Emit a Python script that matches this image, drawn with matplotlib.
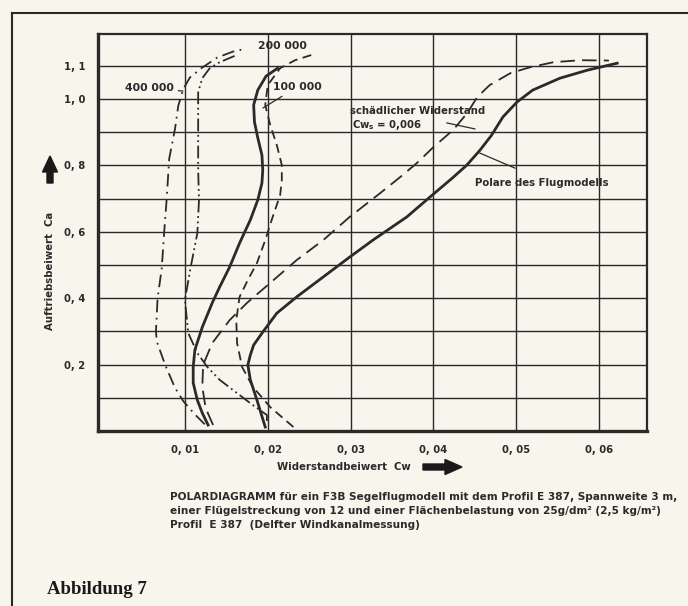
import matplotlib
matplotlib.use('Agg')
import matplotlib.pyplot as plt
from matplotlib.patches import FancyArrow
from matplotlib.lines import Line2D

plt.rcParams['font.family'] = ['DejaVu Sans']
plt.rcParams['mathtext.default'] = 'regular'

# --- Profilpolaren E 387 (Delft) ---
# Re 400 000, strichpunktiert
cw_400 = [0.0124, 0.0112, 0.0098, 0.0088, 0.0076, 0.0066, 0.0065, 0.0067, 0.0072, 0.0075,
          0.0078, 0.0081, 0.0088, 0.0092, 0.0098, 0.0106, 0.0121, 0.0139, 0.0158, 0.0174]
ca_400 = [0.02, 0.05, 0.09, 0.13, 0.20, 0.27, 0.30, 0.40, 0.49, 0.60,
          0.70, 0.82, 0.91, 0.98, 1.03, 1.065, 1.095, 1.125, 1.143, 1.152]

# Re 200 000, strich-punkt-punkt
cw_200 = [0.0199, 0.0199, 0.0182, 0.0163, 0.0142, 0.0127, 0.0115, 0.0104, 0.0100, 0.0107,
          0.0115, 0.0117, 0.0116, 0.0116, 0.0116, 0.0121, 0.0130, 0.0142, 0.0160]
ca_200 = [0.03, 0.048, 0.078, 0.114, 0.154, 0.193, 0.235, 0.295, 0.395, 0.494,
          0.596, 0.696, 0.786, 0.907, 1.021, 1.063, 1.093, 1.111, 1.130]

# Re 100 000, durchgezogen
cw_100 = [0.0128, 0.0121, 0.0115, 0.0110, 0.0110, 0.0112, 0.0121, 0.0133, 0.0142, 0.0154,
          0.0166, 0.0179, 0.0188, 0.0193, 0.0194, 0.0193, 0.0188, 0.0184, 0.0183, 0.0188,
          0.0198, 0.0212]
ca_100 = [0.018, 0.054, 0.093, 0.145, 0.193, 0.244, 0.313, 0.386, 0.434, 0.494,
          0.566, 0.636, 0.696, 0.747, 0.786, 0.831, 0.883, 0.931, 0.982, 1.027,
          1.069, 1.093]

# Re 100 000, gestrichelt (zweite Messung)
cw_100b = [0.0231, 0.0203, 0.0182, 0.0169, 0.0163, 0.0162, 0.0166, 0.0176, 0.0187, 0.0197,
           0.0206, 0.0215, 0.0217, 0.0217, 0.0211, 0.0203, 0.0197, 0.0200, 0.0215, 0.0233,
           0.0253]
ca_100b = [0.012, 0.072, 0.133, 0.193, 0.265, 0.334, 0.404, 0.455, 0.506, 0.575,
           0.645, 0.711, 0.756, 0.801, 0.861, 0.922, 0.982, 1.042, 1.093, 1.117,
           1.133]

# Flugmodell ohne schaedlichen Widerstand, lang gestrichelt
cw_ohne = [0.0134, 0.0125, 0.0121, 0.0122, 0.0133, 0.0154, 0.0175, 0.0203, 0.0235, 0.0267,
           0.0299, 0.0336, 0.0360, 0.0380, 0.0400, 0.0424, 0.0441, 0.0453, 0.0468, 0.0493,
           0.0517, 0.0545, 0.0577, 0.0612]
ca_ohne = [0.018, 0.069, 0.133, 0.199, 0.265, 0.334, 0.386, 0.446, 0.515, 0.575,
           0.645, 0.717, 0.765, 0.807, 0.855, 0.907, 0.958, 1.006, 1.042, 1.078,
           1.096, 1.111, 1.117, 1.116]

# Polare des Flugmodells, durchgezogen
cw_modell = [0.0197, 0.0187, 0.0179, 0.0176, 0.0179, 0.0183, 0.0194, 0.0211, 0.0235, 0.0267,
             0.0299, 0.0327, 0.0368, 0.0396, 0.0422, 0.0440, 0.0456, 0.0470, 0.0484, 0.0501,
             0.0520, 0.0553, 0.0586, 0.0622]
ca_modell = [0.012, 0.093, 0.154, 0.199, 0.229, 0.259, 0.298, 0.355, 0.404, 0.464,
             0.524, 0.575, 0.645, 0.705, 0.760, 0.800, 0.845, 0.890, 0.946, 0.991,
             1.027, 1.063, 1.087, 1.108]

x_ticks = [0.01, 0.02, 0.03, 0.04, 0.05, 0.06]
x_labels = ['0, 01', '0, 02', '0, 03', '0, 04', '0, 05', '0, 06']
y_grid = [0.1, 0.2, 0.3, 0.4, 0.5, 0.6, 0.7, 0.8, 0.9, 1.0, 1.1]
y_labels = ['', '0, 2', '', '0, 4', '', '0, 6', '', '0, 8', '', '1, 0', '1, 1']

paper = '#f7f5ec'
ink = '#2a2a2a'

fig = plt.figure(figsize=(6.88, 6.06), dpi=100, facecolor=paper)
ax = fig.add_axes([0.1424, 0.2888, 0.798, 0.6551], facecolor=paper)

lw = 1.3
ax.plot(cw_400, ca_400, color=ink, lw=lw, dashes=(7, 3, 1, 3))
ax.plot(cw_200, ca_200, color=ink, lw=lw, dashes=(7, 2, 1, 2, 1, 2))
ax.plot(cw_100, ca_100, color=ink, lw=2.0)
ax.plot(cw_100b, ca_100b, color=ink, lw=lw, dashes=(5, 3))
ax.plot(cw_ohne, ca_ohne, color=ink, lw=lw, dashes=(8, 4))
ax.plot(cw_modell, ca_modell, color=ink, lw=2.0)

ax.set_xlim(-0.0005, 0.0658)
ax.set_ylim(0, 1.196)
ax.set_xticks(x_ticks)
ax.set_xticklabels(x_labels, fontsize=7.2, fontweight='bold', color=ink)
ax.set_yticks(y_grid)
ax.set_yticklabels(y_labels, fontsize=7.2, fontweight='bold', color=ink)
ax.tick_params(axis='x', length=0, pad=10)
ax.tick_params(axis='y', length=0, pad=9)
ax.grid(True, color=ink, lw=1.0)
for side in ['left', 'bottom']:
    ax.spines[side].set_linewidth(2.4)
for side in ['top', 'right']:
    ax.spines[side].set_linewidth(1.6)
for sp in ax.spines.values():
    sp.set_color(ink)

# Beschriftungen an den Kurven
fn = 7.8
fw = 7.3
ax.annotate('400 000', xy=(0.00976, 1.024), xytext=(0.0087, 1.033), fontsize=fn,
            fontweight='bold', color=ink, ha='right', va='center',
            arrowprops=dict(arrowstyle='-', color=ink, lw=0.9, shrinkA=1, shrinkB=0))
ax.text(0.0188, 1.160, '200 000', fontsize=fn, fontweight='bold', color=ink, va='center')
ax.annotate('100 000', xy=(0.01942, 0.973), xytext=(0.0206, 1.036), fontsize=fn,
            fontweight='bold', color=ink, ha='left', va='center',
            arrowprops=dict(arrowstyle='-', color=ink, lw=0.9, shrinkA=2, shrinkB=0))
ax.text(0.0299, 0.964, 'schädlicher Widerstand', fontsize=fw, fontweight='bold',
        color=ink, va='center')
ax.text(0.0302, 0.922, 'Cw$_s$ = 0,006', fontsize=fw, fontweight='bold',
        color=ink, va='center')
ax.plot([0.04164, 0.04502], [0.928, 0.910], color=ink, lw=0.9)
ax.text(0.0450, 0.747, 'Polare des Flugmodells', fontsize=fw, fontweight='bold',
        color=ink, va='center')
ax.plot([0.04563, 0.04985], [0.837, 0.792], color=ink, lw=0.9)

# Achsentitel mit Pfeilen
fig.text(277 / 688, 1 - 467 / 606, 'Widerstandbeiwert  Cw', fontsize=7.3, fontweight='bold',
         color=ink, ha='left', va='center')
fig.text(50 / 688, 1 - 271 / 606, 'Auftriebsbeiwert  Ca', fontsize=7.3, fontweight='bold',
         color=ink, ha='center', va='center', rotation=90)
fig.patches.append(FancyArrow(4.23, 1.39, 0.39, 0, width=0.06, head_width=0.15,
                              head_length=0.17, length_includes_head=True, color='#1a1a1a',
                              transform=fig.dpi_scale_trans, figure=fig))
fig.patches.append(FancyArrow(0.50, 4.23, 0, 0.27, width=0.06, head_width=0.15,
                              head_length=0.16, length_includes_head=True, color='#1a1a1a',
                              transform=fig.dpi_scale_trans, figure=fig))

# Bildunterschrift
caption = ['POLARDIAGRAMM für ein F3B Segelflugmodell mit dem Profil E 387, Spannweite 3 m,',
           'einer Flügelstreckung von 12 und einer Flächenbelastung von 25g/dm² (2,5 kg/m²)',
           'Profil  E 387  (Delfter Windkanalmessung)']
for i, line in enumerate(caption):
    fig.text(170 / 688, 1 - (497 + 14 * i) / 606, line, fontsize=7.6, fontweight='bold',
             color=ink, ha='left', va='center')

fig.text(47 / 688, 1 - 590 / 606, 'Abbildung 7', fontsize=13.5, fontweight='bold',
         family='Liberation Serif', color='#1a1a1a', ha='left', va='center')

# Rahmen der Buchseite
fig.add_artist(Line2D([12 / 688, 1.0], [1 - 13 / 606, 1 - 13 / 606], color=ink, lw=1.5))
fig.add_artist(Line2D([12 / 688, 12 / 688], [0.0, 1 - 13 / 606], color=ink, lw=1.5))

fig.savefig('out.png', dpi=100, facecolor=paper)
